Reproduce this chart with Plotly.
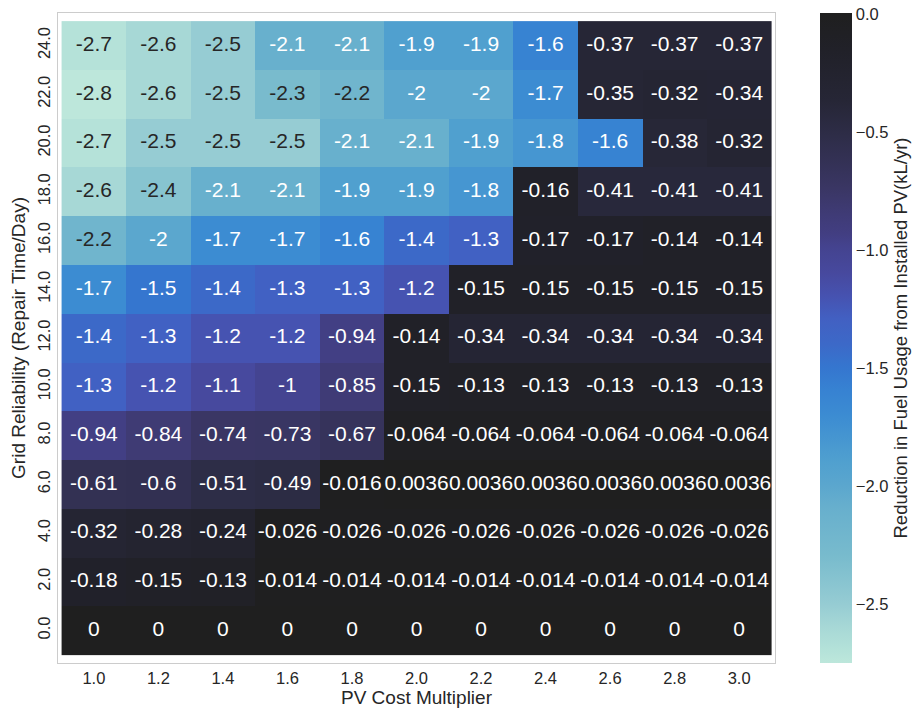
import plotly.graph_objects as go

# PV cost multipliers (columns) and grid repair times (rows, top to bottom)
pv_cost = ["1.0", "1.2", "1.4", "1.6", "1.8", "2.0", "2.2", "2.4", "2.6", "2.8", "3.0"]
repair_time = ["24.0", "22.0", "20.0", "18.0", "16.0", "14.0", "12.0",
               "10.0", "8.0", "6.0", "4.0", "2.0", "0.0"]

# Reduction in fuel usage (kL/yr), one list per repair-time row
row_24 = [-2.7, -2.6, -2.5, -2.1, -2.1, -1.9, -1.9, -1.6, -0.37, -0.37, -0.37]
row_22 = [-2.75, -2.6, -2.5, -2.3, -2.2, -2.0, -2.0, -1.7, -0.35, -0.32, -0.34]
row_20 = [-2.7, -2.5, -2.5, -2.5, -2.1, -2.1, -1.9, -1.8, -1.6, -0.38, -0.32]
row_18 = [-2.6, -2.4, -2.1, -2.1, -1.9, -1.9, -1.8, -0.16, -0.41, -0.41, -0.41]
row_16 = [-2.2, -2.0, -1.7, -1.7, -1.6, -1.4, -1.3, -0.17, -0.17, -0.14, -0.14]
row_14 = [-1.7, -1.5, -1.4, -1.3, -1.3, -1.2, -0.15, -0.15, -0.15, -0.15, -0.15]
row_12 = [-1.4, -1.3, -1.2, -1.2, -0.94, -0.14, -0.34, -0.34, -0.34, -0.34, -0.34]
row_10 = [-1.3, -1.2, -1.1, -1.0, -0.85, -0.15, -0.13, -0.13, -0.13, -0.13, -0.13]
row_8 = [-0.94, -0.84, -0.74, -0.73, -0.67, -0.064, -0.064, -0.064, -0.064, -0.064, -0.064]
row_6 = [-0.61, -0.6, -0.51, -0.49, -0.016, 0.0036, 0.0036, 0.0036, 0.0036, 0.0036, 0.0036]
row_4 = [-0.32, -0.28, -0.24, -0.026, -0.026, -0.026, -0.026, -0.026, -0.026, -0.026, -0.026]
row_2 = [-0.18, -0.15, -0.13, -0.014, -0.014, -0.014, -0.014, -0.014, -0.014, -0.014, -0.014]
row_0 = [0, 0, 0, 0, 0, 0, 0, 0, 0, 0, 0]

z = [row_24, row_22, row_20, row_18, row_16, row_14, row_12,
     row_10, row_8, row_6, row_4, row_2, row_0]

z_min = min(min(r) for r in z)
z_max = max(max(r) for r in z)

# lower ("ice") half of an icefire-style diverging map
ice_scale = [
    [0.000, "rgb(189,231,219)"],
    [0.020, "rgb(180,226,217)"],
    [0.055, "rgb(167,216,214)"],
    [0.090, "rgb(150,204,211)"],
    [0.165, "rgb(120,187,205)"],
    [0.240, "rgb(103,175,205)"],
    [0.275, "rgb(90,166,206)"],
    [0.310, "rgb(80,160,207)"],
    [0.380, "rgb(60,140,210)"],
    [0.420, "rgb(55,130,210)"],
    [0.455, "rgb(53,118,207)"],
    [0.490, "rgb(60,105,200)"],
    [0.530, "rgb(66,96,194)"],
    [0.565, "rgb(70,82,176)"],
    [0.600, "rgb(71,73,158)"],
    [0.640, "rgb(68,67,143)"],
    [0.660, "rgb(66,62,130)"],
    [0.690, "rgb(63,59,118)"],
    [0.730, "rgb(58,54,100)"],
    [0.755, "rgb(54,51,91)"],
    [0.810, "rgb(46,45,72)"],
    [0.865, "rgb(38,38,54)"],
    [0.940, "rgb(33,33,41)"],
    [1.000, "rgb(31,31,31)"],
]

FONT = "Liberation Sans, Arial, sans-serif"
INK = "rgb(38,38,38)"

fig = go.Figure()

fig.add_trace(go.Heatmap(
    x=pv_cost, y=repair_time, z=z,
    zmin=z_min, zmax=z_max,
    colorscale=ice_scale,
    xgap=0, ygap=0,
    hoverongaps=False,
    colorbar=dict(
        thickness=32, thicknessmode="pixels",
        len=1.0, lenmode="fraction",
        x=1.0628, xanchor="left", xpad=0,
        y=0.5, yanchor="middle", ypad=0,
        outlinewidth=0,
        tickvals=[0.0, -0.5, -1.0, -1.5, -2.0, -2.5],
        tickformat=".1f",
        ticks="",
        tickfont=dict(family=FONT, size=16.5, color=INK),
        title=dict(text="Reduction in Fuel Usage from Installed PV(kL/yr)",
                   side="right", font=dict(family=FONT, size=18.5, color=INK)),
    ),
))

# cell annotations, two significant digits
tx, ty, tt, tc = [], [], [], []
for r, row in enumerate(z):
    for c, v in enumerate(row):
        tx.append(pv_cost[c])
        ty.append(repair_time[r])
        tt.append(format(v, ".2g"))
        tc.append(INK if v < -2.15 else "white")

fig.add_trace(go.Scatter(
    x=tx, y=ty, text=tt, mode="text",
    textfont=dict(family=FONT, size=21, color=tc),
    hoverinfo="skip", showlegend=False,
))

fig.update_layout(
    width=917, height=711,
    margin=dict(l=58, r=142, t=13, b=48, autoexpand=False),
    paper_bgcolor="white", plot_bgcolor="white",
    font=dict(family=FONT, color=INK),
    showlegend=False,
)
fig.update_xaxes(
    type="category", categoryorder="array", categoryarray=pv_cost,
    automargin=False,
    showgrid=False, zeroline=False, ticks="",
    showline=True, mirror=True, linecolor="rgb(204,204,204)", linewidth=1,
    tickfont=dict(family=FONT, size=16.5, color=INK),
    title=dict(text="PV Cost Multiplier", font=dict(family=FONT, size=19, color=INK), standoff=4),
)
fig.update_yaxes(
    type="category", categoryorder="array", categoryarray=repair_time,
    autorange="reversed", automargin=False,
    showgrid=False, zeroline=False, ticks="",
    showline=True, mirror=True, linecolor="rgb(204,204,204)", linewidth=1,
    tickangle=-90,
    tickfont=dict(family=FONT, size=16.5, color=INK),
    title=dict(text="Grid Reliability (Repair Time/Day)", font=dict(family=FONT, size=19, color=INK), standoff=4),
)

fig.write_html("out.html")
